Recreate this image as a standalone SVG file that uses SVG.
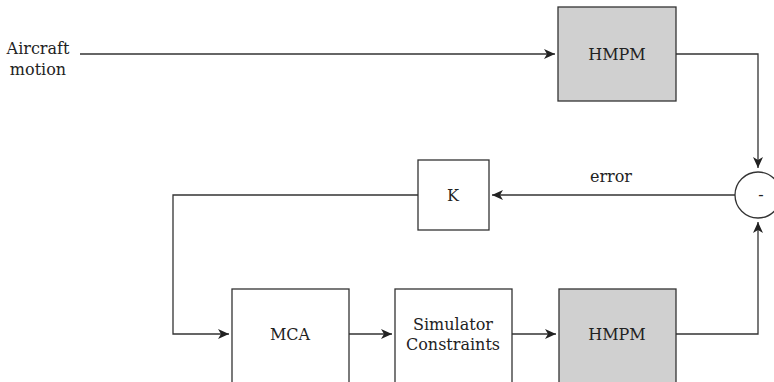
<svg xmlns="http://www.w3.org/2000/svg" width="774" height="382" viewBox="0 0 774 382">
  <style>
    .box { stroke: #333; stroke-width: 1.3; }
    .plain { fill: #fff; }
    .shaded { fill: #d0d0d0; }
    .wire { fill: none; stroke: #333; stroke-width: 1.3; }
    text { font-family: "DejaVu Serif", "Liberation Serif", serif; font-size: 16px; fill: #222; }
  </style>
  <defs>
    <marker id="arrow" markerWidth="12" markerHeight="10" refX="11" refY="5" orient="auto" markerUnits="userSpaceOnUse">
      <path d="M0,0 L11,5 L0,10 L3,5 Z" fill="#222"/>
    </marker>
  </defs>
  <rect width="774" height="382" fill="#fff"/>

  <g id="input-label">
    <text x="38" y="54" text-anchor="middle">Aircraft</text>
    <text x="38" y="75" text-anchor="middle">motion</text>
  </g>

  <g id="connectors">
    <path class="wire" d="M80,54 H555" marker-end="url(#arrow)"/>
    <path class="wire" d="M676,54 H758 V168" marker-end="url(#arrow)"/>
    <path class="wire" d="M735,195 H492" marker-end="url(#arrow)"/>
    <path class="wire" d="M418,195 H173 V334 H229" marker-end="url(#arrow)"/>
    <path class="wire" d="M349,334 H392" marker-end="url(#arrow)"/>
    <path class="wire" d="M512,334 H556" marker-end="url(#arrow)"/>
    <path class="wire" d="M676,334 H758 V222" marker-end="url(#arrow)"/>
    <text x="611" y="182" text-anchor="middle">error</text>
  </g>

  <g id="hmpm-top">
    <rect class="box shaded" x="558" y="7" width="118" height="94"/>
    <text x="617" y="60" text-anchor="middle">HMPM</text>
  </g>

  <g id="sum">
    <circle class="box plain" cx="758" cy="195" r="23"/>
    <text x="761" y="200" text-anchor="middle">-</text>
  </g>

  <g id="gain-k">
    <rect class="box plain" x="418" y="160" width="71" height="70"/>
    <text x="453" y="201" text-anchor="middle">K</text>
  </g>

  <g id="mca">
    <rect class="box plain" x="232" y="289" width="117" height="100"/>
    <text x="290" y="340" text-anchor="middle">MCA</text>
  </g>

  <g id="constraints">
    <rect class="box plain" x="395" y="289" width="117" height="100"/>
    <text x="453" y="330" text-anchor="middle">Simulator</text>
    <text x="453" y="350" text-anchor="middle">Constraints</text>
  </g>

  <g id="hmpm-bottom">
    <rect class="box shaded" x="559" y="289" width="117" height="100"/>
    <text x="617" y="340" text-anchor="middle">HMPM</text>
  </g>
</svg>
